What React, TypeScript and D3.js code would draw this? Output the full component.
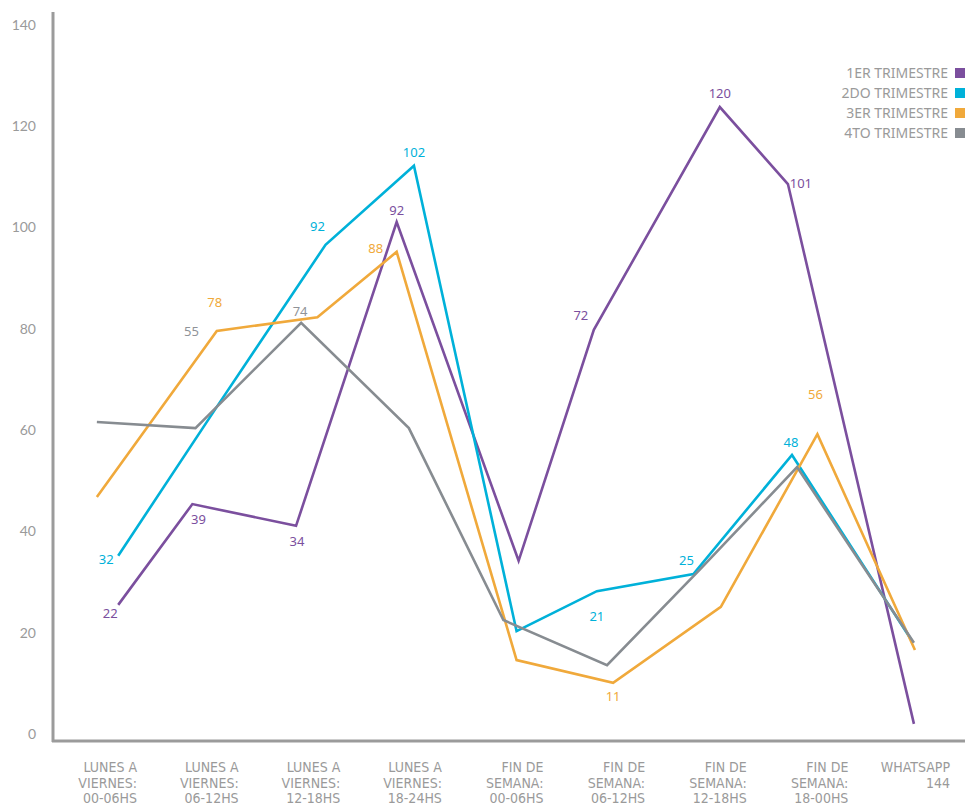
import * as d3 from "d3";

const categories = [
  ["LUNES A", "VIERNES:", "00-06HS"],
  ["LUNES A", "VIERNES:", "06-12HS"],
  ["LUNES A", "VIERNES:", "12-18HS"],
  ["LUNES A", "VIERNES:", "18-24HS"],
  ["FIN DE", "SEMANA:", "00-06HS"],
  ["FIN DE", "SEMANA:", "06-12HS"],
  ["FIN DE", "SEMANA:", "12-18HS"],
  ["FIN DE", "SEMANA:", "18-00HS"],
  ["WHATSAPP", "144"],
];

const yTicks = [0, 20, 40, 60, 80, 100, 120, 140];

const seriesNames = ["1ER TRIMESTRE", "2DO TRIMESTRE", "3ER TRIMESTRE", "4TO TRIMESTRE"];
const seriesColors = ["#7b4f9e", "#00b1d9", "#f0a93b", "#878c91"];

// the drawn points do not sit exactly on the categories, so each point keeps its own x (in category units)
const q1X = [0.13, 0.86, 1.88, 2.87, 4.07, 4.81, 6.05, 6.72, 7.96];
const q1Y = [25.5, 45.4, 41.1, 101.1, 34.2, 79.8, 123.8, 108.6, 2.0];
const q1Labels = [22, 39, 34, 92, null, 72, 120, 101, null];

const q2X = [0.13, 1.1, 2.17, 3.04, 4.05, 4.84, 5.79, 6.76, 7.94];
const q2Y = [35.2, 64.6, 96.6, 112.2, 20.3, 28.2, 31.6, 55.1, 18.4];
const q2Labels = [32, null, 92, 102, null, 21, 25, 48, null];

const q3X = [-0.08, 1.1, 2.09, 2.87, 4.05, 5.0, 6.06, 7.01, 7.97];
const q3Y = [46.8, 79.6, 82.3, 95.2, 14.6, 10.1, 25.1, 59.2, 16.6];
const q3Labels = [null, 78, null, 88, null, 11, null, 56, null];

const q4X = [-0.08, 0.89, 1.93, 2.99, 3.92, 4.94, 5.86, 6.81, 7.96];
const q4Y = [61.6, 60.4, 81.2, 60.4, 22.5, 13.6, 32.6, 52.7, 18.0];
const q4Labels = [null, 55, 74, null, null, null, null, null, null];

// label placement relative to its point [dx, dy]
const labelOffsets = [
  [[-8, 9], [6, 15], [1, 16], [0, -12], null, [-13, -14], [0, -14], [13, -1], null],
  [[-12, 4], null, [-8, -18], [0, -13], null, [0, 25], [-7, -14], [-1, -13], null],
  [null, [-2, -28], null, [-21, -3], null, [0, 14], null, [-2, -40], null],
  [null, [-4, -97], [-1, -11], null, null, null, null, null, null],
];

const seriesX = [q1X, q2X, q3X, q4X];
const seriesY = [q1Y, q2Y, q3Y, q4Y];
const seriesLabels = [q1Labels, q2Labels, q3Labels, q4Labels];

const W = 965;
const H = 805;
const axisColor = "#9b9b9b";
const textColor = "#9a9a9a";

export default function App() {
  const x = d3.scaleLinear().domain([0, 8]).range([105, 918]);
  const y = d3.scaleLinear().domain([0, 140]).range([734, 25]);

  const line = d3
    .line<[number, number]>()
    .x((d) => x(d[0]))
    .y((d) => y(d[1]));

  return (
    <svg
      width={W}
      height={H}
      viewBox={`0 0 ${W} ${H}`}
      style={{ position: "absolute", left: 0, top: 0, background: "#fff" }}
    >
      {/* y tick labels */}
      {yTicks.map((t) => (
        <text
          key={t}
          x={36}
          y={y(t)}
          dy="0.35em"
          textAnchor="end"
          fontFamily="Lato, 'Noto Sans', sans-serif"
          fontSize={14}
          fill={textColor}
        >
          {t}
        </text>
      ))}

      {/* axes */}
      <line x1={53} x2={53} y1={12} y2={742} stroke={axisColor} strokeWidth={3} />
      <line x1={52} x2={965} y1={741} y2={741} stroke={axisColor} strokeWidth={3} />

      {/* x category labels */}
      {categories.map((lines, i) => (
        <text
          key={i}
          textAnchor="end"
          fontFamily="'Liberation Sans Narrow', 'DejaVu Sans Condensed', sans-serif"
          fontStretch="condensed"
          fontSize={14}
          fill={textColor}
        >
          {lines.map((l, j) => (
            <tspan key={j} x={x(i) + 32} y={772 + j * 15.5}>
              {l}
            </tspan>
          ))}
        </text>
      ))}

      {/* lines */}
      {seriesX.map((xs, s) => (
        <path
          key={s}
          d={line(xs.map((v, k) => [v, seriesY[s][k]]) as [number, number][]) ?? ""}
          fill="none"
          stroke={seriesColors[s]}
          strokeWidth={2.6}
          strokeLinejoin="miter"
        />
      ))}

      {/* data labels */}
      {seriesLabels.map((labels, s) =>
        labels.map((lab, k) => {
          const off = labelOffsets[s][k];
          if (lab === null || !off) return null;
          return (
            <text
              key={`${s}-${k}`}
              x={x(seriesX[s][k]) + off[0]}
              y={y(seriesY[s][k]) + off[1]}
              dy="0.35em"
              textAnchor="middle"
              fontFamily="'Noto Sans', sans-serif"
              fontSize={13}
              fill={s === 3 ? "#8f9398" : seriesColors[s]}
            >
              {lab}
            </text>
          );
        })
      )}

      {/* legend */}
      {seriesNames.map((n, i) => (
        <g key={n} transform={`translate(0, ${73 + i * 20})`}>
          <text
            x={948}
            y={0}
            dy="0.35em"
            textAnchor="end"
            fontFamily="'Noto Sans', sans-serif"
            fontSize={14}
            fill={textColor}
          >
            {n}
          </text>
          <rect x={955} y={-5} width={10} height={10} fill={seriesColors[i]} />
        </g>
      ))}
    </svg>
  );
}
